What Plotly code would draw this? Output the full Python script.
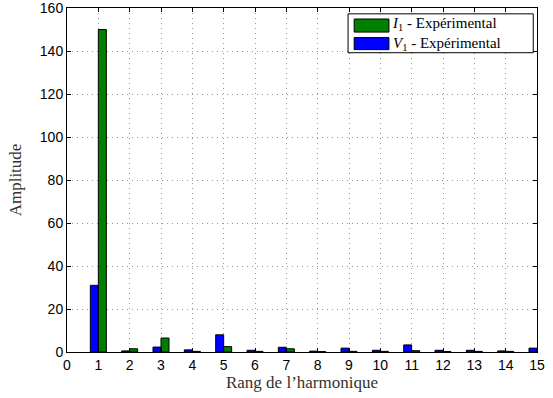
import plotly.graph_objects as go

harmonics = list(range(1, 16))
v1_values = [31, 0.5, 2.3, 1.0, 8.0, 0.8, 2.2, 0.4, 1.8, 0.8, 3.3, 0.8, 0.8, 0.5, 1.8]
i1_values = [150, 1.5, 6.5, 0.3, 2.5, 0.3, 1.5, 0.2, 0.3, 0.3, 0.6, 0.2, 0.3, 0.3, 0.2]
x_ticks = list(range(0, 16))
y_ticks = list(range(0, 161, 20))
series_names = ["<i>I</i><sub>1</sub> - Expérimental", "<i>V</i><sub>1</sub> - Expérimental"]
series_colors = ["#007f00", "#0000ff"]

SERIF = "Liberation Serif, DejaVu Serif, serif"

fig = go.Figure()
fig.add_trace(go.Bar(x=harmonics, y=v1_values, name=series_names[1],
                     marker=dict(color=series_colors[1], line=dict(color="black", width=1))))
fig.add_trace(go.Bar(x=harmonics, y=i1_values, name=series_names[0],
                     marker=dict(color=series_colors[0], line=dict(color="black", width=1))))

axis_common = dict(showline=True, linecolor="black", linewidth=1, mirror="ticks",
                   ticks="inside", ticklen=4, tickcolor="black",
                   showgrid=True, gridcolor="#999999", griddash="1px,4px", gridwidth=1,
                   zeroline=False, automargin=False, ticklabeloverflow="allow",
                   tickfont=dict(family="Liberation Sans, Arial", size=14, color="black"))

# Manual legend (box with wide swatches, MATLAB style), in paper coordinates of plot area
shapes = [
    dict(type="rect", xref="paper", yref="paper", x0=0.598, x1=0.992, y0=0.870, y1=0.983,
         fillcolor="white", line=dict(color="black", width=1), layer="above"),
]
swatch_rows = [(0.930, 0.968), (0.879, 0.914)]
for (y0, y1), col in zip(swatch_rows, series_colors):
    shapes.append(dict(type="rect", xref="paper", yref="paper", x0=0.611, x1=0.685, y0=y0, y1=y1,
                       fillcolor=col, line=dict(color="black", width=1), layer="above"))
annotations = [dict(xref="paper", yref="paper", x=0.688, y=0.925, xanchor="left", yanchor="middle",
                    align="left", text="<br>".join(series_names), showarrow=False,
                    font=dict(family=SERIF, size=15, color="black"))]

fig.update_layout(
    template="none",
    width=553, height=398,
    margin=dict(l=67, r=16, t=8, b=46, autoexpand=False),
    paper_bgcolor="white", plot_bgcolor="white",
    barmode="group", bargap=0.49, bargroupgap=0,
    showlegend=False,
    shapes=shapes, annotations=annotations,
    xaxis=dict(range=[0, 15], tickvals=x_ticks, ticktext=[str(t) for t in x_ticks],
               title=dict(text="Rang de l’harmonique", standoff=3,
                          font=dict(family=SERIF, size=17, color="#333333")),
               **axis_common),
    yaxis=dict(range=[0, 160], tickvals=y_ticks,
               title=dict(text="Amplitude", standoff=13,
                          font=dict(family=SERIF, size=17, color="#333333")),
               **axis_common),
)

fig.write_html("out.html", config={"displayModeBar": False},
               post_script="document.body.style.margin='0';")
